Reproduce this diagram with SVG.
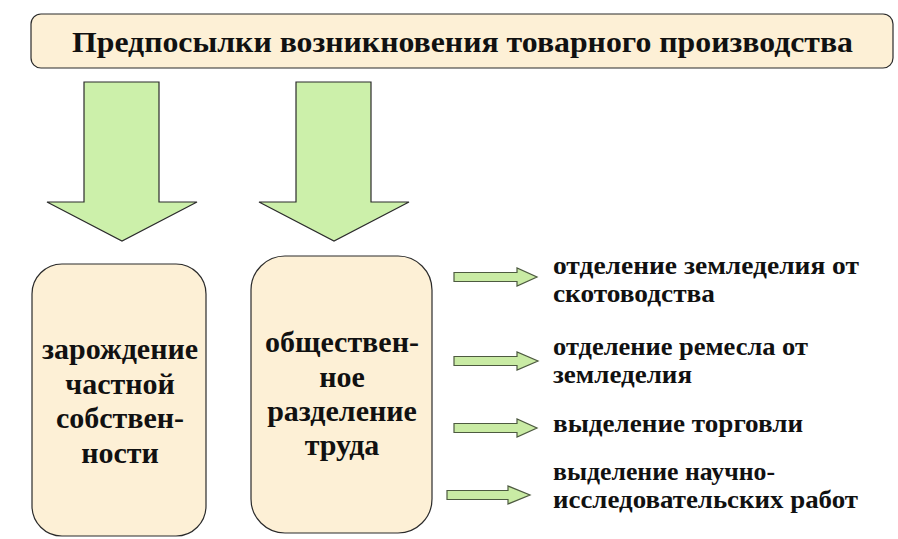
<svg xmlns="http://www.w3.org/2000/svg" width="898" height="539" viewBox="0 0 898 539">
<style>
.box{fill:#fdf0d6;stroke:#2b2b2b;stroke-width:1.2}
.big{fill:#ccf0aa;stroke:#2b2b2b;stroke-width:1.2;stroke-linejoin:miter}
.small{fill:#c9eba4;stroke:#4d5a40;stroke-width:1.2}
.tx{font-weight:bold;fill:#111}
.t{font-size:30px}
.bt{font-size:30px;text-anchor:middle}
.rt{font-size:26px}
</style>
<rect width="898" height="539" fill="#ffffff"/>
<g font-family="'Liberation Serif', 'Times New Roman', Tinos, 'DejaVu Serif', 'Noto Serif', FreeSerif, serif">
<g id="title">
<rect class="box" x="31" y="14" width="862" height="54" rx="10"/>
<text class="tx t" x="72" y="52" textLength="781" lengthAdjust="spacingAndGlyphs">Предпосылки возникновения  товарного производства</text>
</g>
<g id="connectors">
<polygon class="big" points="84,82 159,82 159,202 197,202 122,241 47,202 84,202"/>
<polygon class="big" points="296,82 371,82 371,202 409,202 334,241 259,202 296,202"/>
<polygon class="small" points="454,272.5 517,272.5 517,268 537,277 517,286 517,281.5 454,281.5"/>
<polygon class="small" points="454,356.5 517,356.5 517,352 538,361 517,370 517,365.5 454,365.5"/>
<polygon class="small" points="454,423.5 517,423.5 517,419 537,428 517,437 517,432.5 454,432.5"/>
<polygon class="small" points="447,490.5 508,490.5 508,486 530,495 508,504 508,499.5 447,499.5"/>
</g>
<g id="private-property">
<rect class="box" x="32" y="264" width="174" height="272" rx="30"/>
<text class="tx bt" x="120" y="359">зарождение</text>
<text class="tx bt" x="120" y="394">частной</text>
<text class="tx bt" x="120" y="428">собствен-</text>
<text class="tx bt" x="120" y="463">ности</text>
</g>
<g id="division-of-labour">
<rect class="box" x="251" y="256" width="181" height="277" rx="34"/>
<text class="tx bt" x="342" y="352">обществен-</text>
<text class="tx bt" x="342" y="387">ное</text>
<text class="tx bt" x="342" y="421">разделение</text>
<text class="tx bt" x="342" y="455">труда</text>
</g>
<g id="item1">
<text class="tx rt" x="553" y="274" textLength="306" lengthAdjust="spacingAndGlyphs">отделение земледелия от</text>
<text class="tx rt" x="553" y="302" textLength="162" lengthAdjust="spacingAndGlyphs">скотоводства</text>
</g>
<g id="item2">
<text class="tx rt" x="553" y="355" textLength="255" lengthAdjust="spacingAndGlyphs">отделение ремесла от</text>
<text class="tx rt" x="553" y="383" textLength="139" lengthAdjust="spacingAndGlyphs">земледелия</text>
</g>
<g id="item3">
<text class="tx rt" x="553" y="432" textLength="250" lengthAdjust="spacingAndGlyphs">выделение торговли</text>
</g>
<g id="item4">
<text class="tx rt" x="553" y="480" textLength="222" lengthAdjust="spacingAndGlyphs">выделение научно-</text>
<text class="tx rt" x="553" y="508" textLength="305" lengthAdjust="spacingAndGlyphs">исследовательских работ</text>
</g>
</g>
</svg>
